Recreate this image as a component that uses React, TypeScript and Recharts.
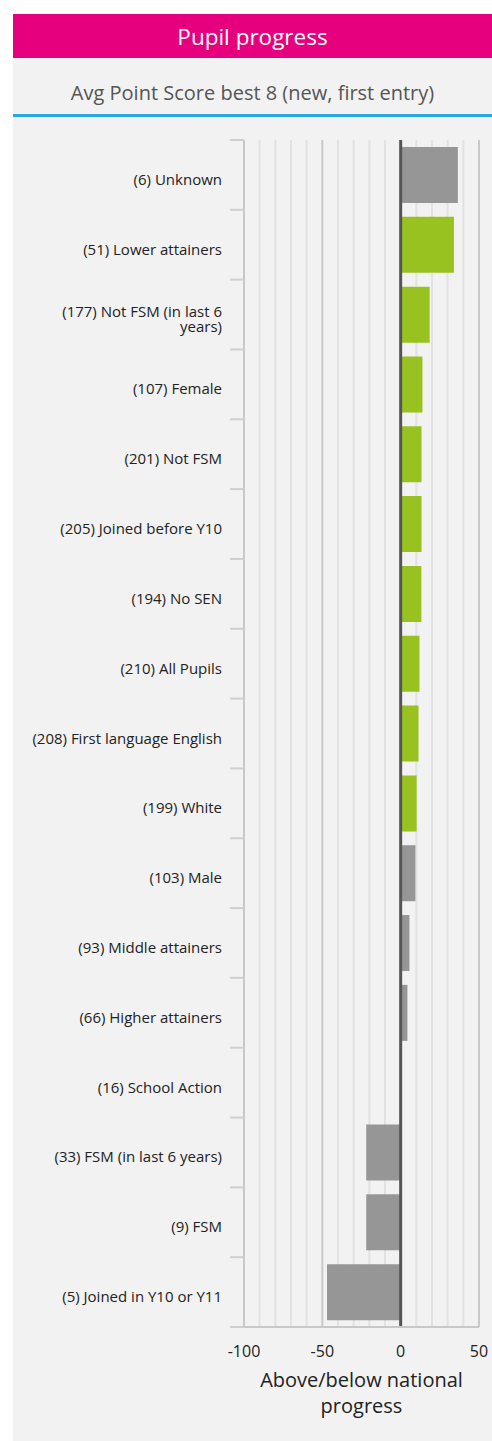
import React from "react";
import { BarChart, Bar, XAxis, YAxis, ReferenceLine, Cell, Label, CartesianGrid } from "recharts";

const categories = [
  "(6) Unknown",
  "(51) Lower attainers",
  "(177) Not FSM (in last 6 years)",
  "(107) Female",
  "(201) Not FSM",
  "(205) Joined before Y10",
  "(194) No SEN",
  "(210) All Pupils",
  "(208) First language English",
  "(199) White",
  "(103) Male",
  "(93) Middle attainers",
  "(66) Higher attainers",
  "(16) School Action",
  "(33) FSM (in last 6 years)",
  "(9) FSM",
  "(5) Joined in Y10 or Y11",
];
const values = [36.5, 34, 18.5, 13.9, 13.3, 13.3, 13.2, 12, 11.4, 10.2, 9.4, 5.6, 4.3, 0, -22, -22, -47];
const significant = [false, true, true, true, true, true, true, true, true, true, false, false, false, false, false, false, false];
const xTicks = [-100, -50, 0, 50];
const minorGrid = [-90, -80, -70, -60, -40, -30, -20, -10, 10, 20, 30, 40];
const majorGrid = [-50, 50];

const data = categories.map((c, i) => ({ name: c, value: values[i], sig: significant[i] }));

const FONT = "'Open Sans', Lato, sans-serif";
const CHART_W = 479;
const CHART_H = 1324;
const MARGIN = { top: 23, right: 13, left: 0, bottom: 34 };
const X_AXIS_H = 80;
const Y_AXIS_W = 231;
const PLOT_H = CHART_H - MARGIN.top - MARGIN.bottom - X_AXIS_H;
const BAND = PLOT_H / categories.length;

function wrapLabel(s: string): string[] {
  if (s.length <= 29) return [s];
  const cut = s.lastIndexOf(" ", 25);
  return [s.slice(0, cut), s.slice(cut + 1)];
}

const YTick = (props: any) => {
  const { y, payload, index } = props;
  const axisX = Y_AXIS_W + MARGIN.left;
  const lines = wrapLabel(payload.value);
  const lh = 15;
  const startY = y + 4 - ((lines.length - 1) * lh) / 2;
  return (
    <g>
      <line x1={axisX - 14} x2={axisX} y1={y - BAND / 2} y2={y - BAND / 2} stroke="#cfcfcf" strokeWidth={2} />
      {index === categories.length - 1 && (
        <line x1={axisX - 14} x2={axisX} y1={y + BAND / 2} y2={y + BAND / 2} stroke="#cfcfcf" strokeWidth={2} />
      )}
      <text x={axisX - 22} y={startY} textAnchor="end" dominantBaseline="central" fontFamily={FONT} fontSize={15} fill="#222">
        {lines.map((l, i) => (
          <tspan key={i} x={axisX - 22} dy={i === 0 ? 0 : lh}>
            {l}
          </tspan>
        ))}
      </text>
    </g>
  );
};

const AxisTitle = (props: any) => {
  const vb = props.viewBox;
  const cx = vb.x + vb.width / 2;
  return (
    <text textAnchor="middle" fontFamily={FONT} fontSize={20} fill="#222">
      <tspan x={cx} y={vb.y + 60}>Above/below national</tspan>
      <tspan x={cx} y={vb.y + 86}>progress</tspan>
    </text>
  );
};

const minorGen = (args: any) => {
  const scale = args?.xAxis?.scale;
  if (!scale) return [];
  const fn = typeof scale === "function" ? scale : scale.map ? (v: number) => scale.map(v) : null;
  if (!fn) return [];
  return minorGrid.map((v) => fn(v));
};

export default function App() {
  return (
    <div
      style={{
        position: "absolute",
        left: 13,
        top: 14,
        width: CHART_W,
        height: 1427,
        background: "#f2f2f2",
        fontFamily: FONT,
      }}
    >
      <div
        style={{
          height: 44,
          background: "#e6007e",
          color: "#fff",
          fontSize: 22.5,
          display: "flex",
          alignItems: "center",
          justifyContent: "center",
        }}
      >
        Pupil progress
      </div>
      <div
        style={{
          height: 56,
          color: "#555",
          fontSize: 20,
          display: "flex",
          alignItems: "center",
          justifyContent: "center",
          paddingTop: 12,
          boxSizing: "border-box",
        }}
      >
        Avg Point Score best 8 (new, first entry)
      </div>
      <div style={{ height: 3, background: "#29a8e0" }} />
      <BarChart width={CHART_W} height={CHART_H} data={data} layout="vertical" margin={MARGIN} barCategoryGap="10%">
        <CartesianGrid horizontal={false} verticalCoordinatesGenerator={minorGen} stroke="#e2e2e2" strokeWidth={2} />
        <XAxis
          type="number"
          domain={[-100, 50]}
          ticks={xTicks}
          allowDataOverflow
          height={X_AXIS_H}
          tickLine={false}
          tickSize={0}
          tickMargin={19}
          axisLine={{ stroke: "#c8c8c8", strokeWidth: 2 }}
          tick={{ fontFamily: FONT, fontSize: 16, fill: "#222" }}
        >
          <Label content={AxisTitle} />
        </XAxis>
        <YAxis
          type="category"
          dataKey="name"
          width={Y_AXIS_W}
          tickLine={false}
          tickSize={0}
          tickMargin={0}
          interval={0}
          axisLine={{ stroke: "#c8c8c8", strokeWidth: 2 }}
          tick={YTick}
        />
        <Bar dataKey="value" isAnimationActive={false}>
          {data.map((d, i) => (
            <Cell key={i} fill={d.sig ? "#98c21f" : "#969696"} />
          ))}
        </Bar>
        {majorGrid.map((v) => (
          <ReferenceLine key={"M" + v} x={v} stroke="#c8c8c8" strokeWidth={2} />
        ))}
        <ReferenceLine x={0} stroke="#555" strokeWidth={3} />
      </BarChart>
    </div>
  );
}
